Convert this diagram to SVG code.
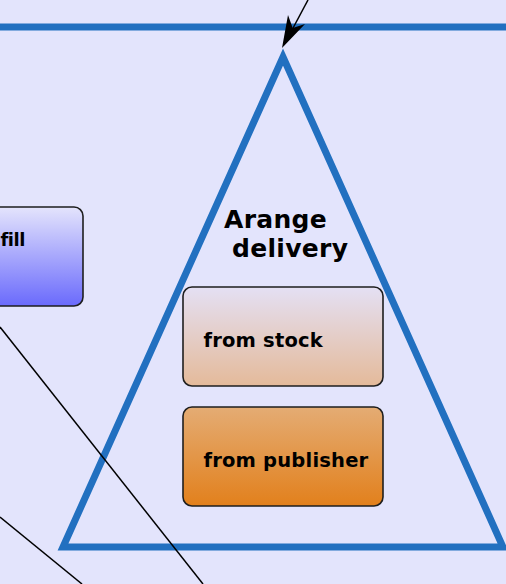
<svg xmlns="http://www.w3.org/2000/svg" width="506" height="584" viewBox="0 0 506 584">
<defs>
<linearGradient id="gBlue" x1="0" y1="0" x2="0" y2="1"><stop offset="0" stop-color="#e4e4fc"/><stop offset="1" stop-color="#6a6afc"/></linearGradient>
<linearGradient id="gStock" x1="0" y1="0" x2="0" y2="1"><stop offset="0" stop-color="#e4e0f4"/><stop offset="1" stop-color="#e4ba9a"/></linearGradient>
<linearGradient id="gPub" x1="0" y1="0" x2="0" y2="1"><stop offset="0" stop-color="#e4ac74"/><stop offset="1" stop-color="#e2801c"/></linearGradient>
<style>
.frame{fill:none;stroke:#2270c0;stroke-width:7}
.box{stroke:#1e1e1e;stroke-width:1.6}
.lbl{font-family:"DejaVu Sans",sans-serif;font-weight:bold;font-size:19.5px;letter-spacing:0.2px;fill:#000}
.title{font-family:"DejaVu Sans",sans-serif;font-weight:bold;font-size:25px;letter-spacing:0.3px;fill:#000}
.conn{fill:none;stroke:#000;stroke-width:1.5}
</style>
</defs>
<rect width="506" height="584" fill="#e3e4fc"/>
<g id="lane">
<line class="frame" x1="0" y1="27" x2="506" y2="27"/>
</g>
<g id="arrange-delivery">
<polygon class="frame" points="283,57 503,547 63,547"/>
<text class="title" x="224" y="228">Arange</text>
<text class="title" x="232" y="257">delivery</text>
</g>
<g id="fill-node">
<rect class="box" x="-20" y="207" width="103" height="99" rx="9" fill="url(#gBlue)"/>
<text class="lbl" x="0.5" y="246" style="font-size:18px;letter-spacing:-0.5px">fill</text>
</g>
<g id="from-stock">
<rect class="box" x="183" y="287" width="200" height="99" rx="9" fill="url(#gStock)"/>
<text class="lbl" x="203.5" y="347">from stock</text>
</g>
<g id="from-publisher">
<rect class="box" x="183" y="407" width="200" height="99" rx="9" fill="url(#gPub)"/>
<text class="lbl" x="203.5" y="467">from publisher</text>
</g>
<g id="connectors">
<line class="conn" x1="0" y1="327" x2="203" y2="584"/>
<line class="conn" x1="0" y1="517" x2="82" y2="584"/>
<line class="conn" x1="308" y1="0" x2="292" y2="30"/>
<polygon points="282,48 288,15 292.7,28 305,24" fill="#000"/>
</g>
</svg>
